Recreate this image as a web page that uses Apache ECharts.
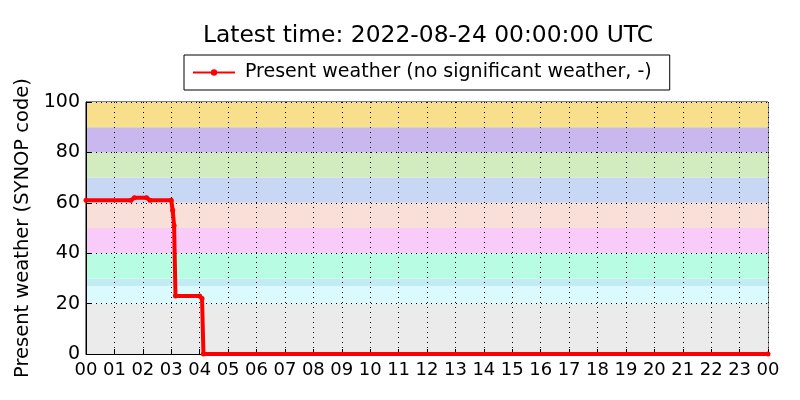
<!DOCTYPE html>
<html>
<head>
<meta charset="utf-8">
<script src="https://cdn.jsdelivr.net/npm/echarts@6/dist/echarts.min.js"></script>
<style>
  html, body { margin: 0; padding: 0; background: #fff; }
  #chart { width: 800px; height: 400px; }
</style>
</head>
<body>
<div id="chart"></div>
<script>
// minutes since 00:00 UTC and present weather code
var minutes = [0, 95, 102, 128, 135, 180, 183, 186, 189, 240, 245, 248, 1440]
var weather = [61, 61, 62, 62, 61, 61, 57, 51, 23, 23, 22, 0, 0]

// SYNOP code bands
var bandFrom = [0, 20, 27, 30, 40, 50, 60, 70, 80, 90]
var bandTo = [20, 27, 30, 40, 50, 60, 70, 80, 90, 100]
var bandColors = ['#ebebeb', '#dafafd', '#c3ecf2', '#b8fde3', '#f8cbf8', '#f8e0d8', '#c8d7f4', '#d3ecbf', '#c8b8ed', '#f8df8b']

var hourLabels = ['00', '01', '02', '03', '04', '05', '06', '07', '08', '09', '10', '11',
  '12', '13', '14', '15', '16', '17', '18', '19', '20', '21', '22', '23', '00']

var font = 'DejaVu Sans'
var seriesName = 'Present weather (no significant weather, -)'
var lineData = minutes.map(function (m, i) { return [m, weather[i]] })
var bands = bandFrom.map(function (f, i) {
  return [{ yAxis: f, itemStyle: { color: bandColors[i] } }, { yAxis: bandTo[i] }]
})

var chart = echarts.init(document.getElementById('chart'))
chart.setOption({
  animation: false,
  title: {
    text: 'Latest time: 2022-08-24 00:00:00 UTC',
    left: 423,
    textAlign: 'center',
    top: 19,
    textStyle: { fontFamily: font, fontSize: 23.4, fontWeight: 'normal', color: '#000' }
  },
  legend: {
    top: 55,
    left: 184,
    borderColor: '#000',
    borderWidth: 1,
    borderRadius: 0,
    padding: [8, 18, 8, 8],
    itemWidth: 42,
    itemHeight: 8,
    itemGap: 10,
    textStyle: { fontFamily: font, fontSize: 19, color: '#000', padding: [0, 0, 0, 5] },
    data: [seriesName]
  },
  grid: {
    left: 86,
    right: 32,
    top: 102,
    bottom: 46,
    show: true,
    borderColor: '#000',
    borderWidth: 1,
    backgroundColor: 'transparent'
  },
  xAxis: {
    type: 'value',
    min: 0,
    max: 1440,
    interval: 60,
    z: 3,
    axisLine: { show: true, lineStyle: { color: '#000' } },
    axisTick: { show: true, inside: true, length: 5, lineStyle: { color: '#000' } },
    axisLabel: {
      fontFamily: font,
      fontSize: 18,
      color: '#000',
      margin: 7,
      formatter: function (v) { return hourLabels[Math.round(v / 60)] }
    },
    splitLine: { show: true, lineStyle: { color: '#000', type: [1, 4], width: 1 } }
  },
  yAxis: {
    type: 'value',
    min: 0,
    max: 100,
    interval: 20,
    z: 3,
    name: 'Present weather (SYNOP code)',
    nameLocation: 'middle',
    nameGap: 44,
    nameTextStyle: { fontFamily: font, fontSize: 19.5, color: '#000' },
    axisLine: { show: true, lineStyle: { color: '#000' } },
    axisTick: { show: true, inside: true, length: 5, lineStyle: { color: '#000' } },
    axisLabel: { fontFamily: font, fontSize: 19, color: '#000', margin: 6 },
    splitLine: { show: true, lineStyle: { color: '#000', type: [1, 4], width: 1 } }
  },
  series: [
    {
      name: 'bands',
      type: 'line',
      data: [],
      z: 1,
      silent: true,
      markArea: { silent: true, data: bands }
    },
    {
      name: seriesName,
      type: 'line',
      data: lineData,
      symbol: 'circle',
      symbolSize: 5,
      showSymbol: true,
      lineStyle: { color: '#ff0000', width: 4 },
      itemStyle: { color: '#ff0000' },
      z: 5
    }
  ]
})
</script>
</body>
</html>
